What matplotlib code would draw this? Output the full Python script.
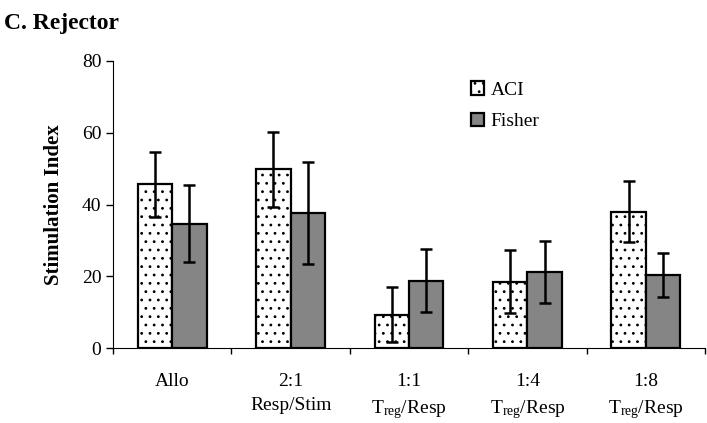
import numpy as np
import matplotlib.pyplot as plt

plt.rcParams['font.family'] = 'Liberation Serif'
plt.rcParams['mathtext.fontset'] = 'custom'
plt.rcParams['mathtext.rm'] = 'Liberation Serif'
plt.rcParams['mathtext.it'] = 'Liberation Serif'
plt.rcParams['hatch.linewidth'] = 0.8

# datos
grupos = ["Allo", "2:1\nResp/Stim", "1:1\n$\\mathregular{T_{reg}}$/Resp",
          "1:4\n$\\mathregular{T_{reg}}$/Resp", "1:8\n$\\mathregular{T_{reg}}$/Resp"]
aci = [45.6, 49.8, 9.3, 18.5, 38.0]
aci_err = [9.1, 10.4, 7.6, 8.8, 8.5]
fisher = [34.7, 37.6, 18.8, 21.3, 20.4]
fisher_err = [10.8, 14.2, 8.8, 8.6, 6.2]

fig = plt.figure(figsize=(7.07, 4.23), dpi=100)
ax = fig.add_axes([0.160, 0.177, 0.837, 0.679])

x = np.arange(len(grupos))
ancho = 0.29
ekw = dict(elinewidth=1.8, capthick=1.8, ecolor='black')

ax.bar(x - ancho / 2, aci, ancho, color='white', edgecolor='black',
       linewidth=1.6, hatch='..', label='ACI')
ax.errorbar(x - ancho / 2, aci, yerr=aci_err, fmt='none', capsize=4.5, **ekw)
ax.bar(x + ancho / 2, fisher, ancho, color='#858585', edgecolor='black',
       linewidth=1.6, label='Fisher')
ax.errorbar(x + ancho / 2, fisher, yerr=fisher_err, fmt='none', capsize=4.5, **ekw)

ax.set_xlim(-0.5, 4.5)
ax.set_ylim(0, 80)
ax.set_yticks([0, 20, 40, 60, 80])
ax.tick_params(axis='y', labelsize=14, direction='out', length=5, width=1)

ax.set_xticks(np.arange(-0.5, 5, 1))
ax.set_xticklabels([])
ax.tick_params(axis='x', which='major', direction='out', length=4, width=1)
ax.set_xticks(x, minor=True)
ax.set_xticklabels(grupos, minor=True, fontsize=14, linespacing=1.5)
ax.tick_params(axis='x', which='minor', length=0, pad=18)

ax.spines['top'].set_visible(False)
ax.spines['right'].set_visible(False)

ax.set_ylabel("Stimulation Index", fontsize=15, fontweight='bold', labelpad=13)
fig.text(0.005, 0.945, "C. Rejector", fontsize=17, fontweight='bold', va='center')

ax.legend(loc='upper left', bbox_to_anchor=(0.575, 0.99), frameon=False,
          fontsize=14, handlelength=0.7, handleheight=0.7, handletextpad=0.3,
          labelspacing=0.7)

fig.savefig("out.png", dpi=100)
